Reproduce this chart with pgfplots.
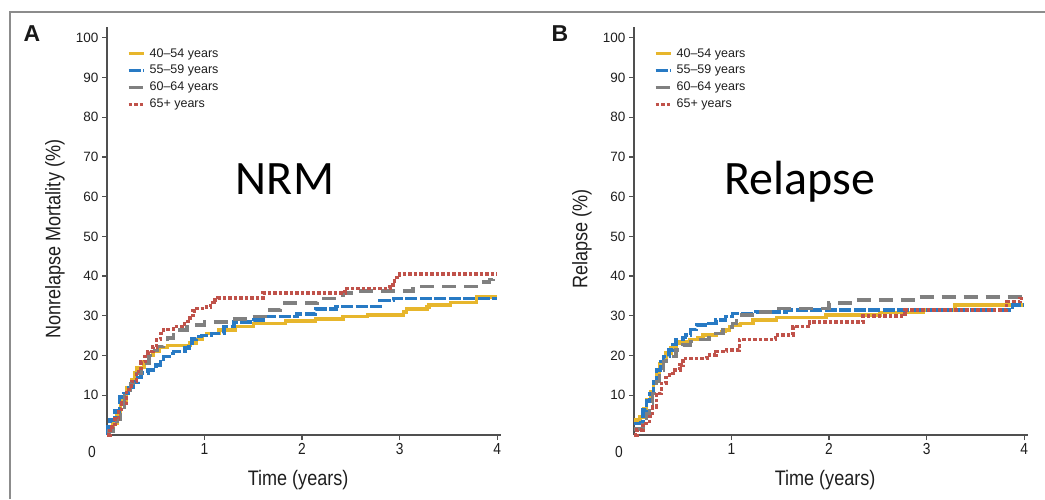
\documentclass[border=0pt]{standalone}
\usepackage{pgfplots}
\pgfplotsset{compat=1.18}
\usepackage{fontspec}
\setmainfont{Liberation Sans}
\newfontfamily\condfont{Liberation Sans}[FakeStretch=0.86]
\newfontfamily\calfont{Carlito}
\definecolor{cyel}{RGB}{231,182,44}
\definecolor{cblu}{RGB}{40,122,196}
\definecolor{cgry}{RGB}{128,128,128}
\definecolor{cred}{RGB}{192,82,74}
\definecolor{axgray}{RGB}{80,80,80}
\definecolor{txt}{RGB}{30,30,30}
\definecolor{frame}{RGB}{140,140,140}

\pgfplotsset{
 kmstyle/.style={
  width=394pt, height=408pt, scale only axis, clip=false,
  xmin=0, xmax=4.04, ymin=0, ymax=102.7,
  axis lines=left, axis line style={-, axgray, line width=1.4pt},
  xtick={1,2,3,4}, ytick={10,20,...,100},
  tick align=outside, major tick length=5pt,
  tick style={axgray, line width=1.2pt},
  /pgf/number format/assume math mode=true,
  xticklabel style={font=\condfont\fontsize{16}{16}\selectfont, text=txt},
  yticklabel style={font=\fontsize{13.5}{13.5}\selectfont, text=txt},
  label style={font=\condfont\fontsize{21}{21}\selectfont, text=txt},
  xlabel style={at={(axis description cs:0.485,-0.11)}, anchor=center},
  ylabel style={at={(axis description cs:-0.132,0.48)}, anchor=center},
  legend cell align=left,
  legend style={draw=none, fill=none, at={(rel axis cs:0.043,0.957)}, anchor=north west,
    font=\fontsize{12.5}{12.5}\selectfont, text=txt, row sep=2.2pt,
    /tikz/every odd column/.style={column sep=3pt},
    nodes={inner sep=1.5pt, text height=9pt, text depth=2.5pt}},
  legend image code/.code={\draw[#1, line width=3pt] (0pt,0pt) -- (15pt,0pt);},
 },
 yel/.style={cyel, line width=3.5pt, const plot, mark=none},
 blu/.style={cblu, line width=3.5pt, dash pattern=on 12pt off 2.5pt, const plot, mark=none},
 gry/.style={cgry, line width=3.5pt, dash pattern=on 14pt off 8pt, const plot, mark=none},
 red/.style={cred, line width=3.5pt, dash pattern=on 3.5pt off 2pt, const plot, mark=none},
}

\begin{document}
\begin{tikzpicture}
\useasboundingbox (0pt,0pt) rectangle (1045pt,499pt);
\draw[frame, line width=2pt] (10pt,0pt) -- (10pt,487pt) -- (1045pt,487pt);
\node[font=\bfseries\fontsize{23}{23}\selectfont, text=black!90] at (32pt,465pt) {A};
\node[font=\bfseries\fontsize{23}{23}\selectfont, text=black!90] at (560pt,465pt) {B};

% ---------------- Panel A: NRM ----------------
\begin{axis}[kmstyle, at={(107pt,64pt)}, anchor=south west,
  xlabel={Time (years)}, ylabel={Nonrelapse Mortality (\%)}]
\addplot[yel] coordinates {
(0,0) (0.02,1) (0.06,3) (0.1,6) (0.14,8.5) (0.2,12) (0.25,14) (0.28,15.6)
(0.31,17) (0.38,18.5) (0.43,20) (0.47,21) (0.54,22) (0.62,22.5) (0.85,23.2)
(0.92,24) (0.98,25) (1.02,25.6) (1.15,26.4) (1.32,27.3) (1.5,28.1) (1.83,28.7)
(2.14,29.2) (2.42,29.8) (2.67,30.2) (3.04,31) (3.07,31.7) (3.28,32.2) (3.3,32.7)
(3.52,33.3) (3.79,34.8) (4.0,34.8)};
\addlegendentry{40--54 years}
\addplot[blu] coordinates {
(0,0) (0.01,2) (0.03,3.8) (0.08,6) (0.13,9.6) (0.17,10.5) (0.22,12) (0.27,13.4)
(0.32,14.5) (0.35,15.6) (0.42,16.4) (0.5,17.6) (0.55,18.5) (0.58,19.7) (0.64,20.5)
(0.68,21) (0.8,21.9) (0.84,23) (0.87,24.2) (0.92,24.8) (0.97,25.1) (1.07,25.6)
(1.2,27.3) (1.3,28.5) (1.5,29) (1.6,29.8) (1.95,30.5) (2.14,31.7) (2.35,32.3)
(2.8,33.8) (2.94,34.4) (4.0,34.4)};
\addlegendentry{55--59 years}
\addplot[gry] coordinates {
(0,0) (0.02,1) (0.06,2.5) (0.1,4) (0.14,7) (0.18,10) (0.24,13) (0.3,15.5)
(0.35,18) (0.43,20) (0.49,21.3) (0.52,22.3) (0.58,23.3) (0.62,24.4) (0.68,25.2)
(0.72,26.4) (0.82,27.2) (0.9,27.7) (1.0,28.5) (1.25,29.2) (1.44,29.8) (1.62,31.5)
(1.78,33.2) (2.16,34.4) (2.42,35.7) (2.5,36.3) (3.14,37.4) (3.79,38.5) (3.92,39.2)
(3.96,39.9) (4.0,39.9)};
\addlegendentry{60--64 years}
\addplot[red] coordinates {
(0,0) (0.03,2) (0.08,4) (0.12,6.5) (0.15,8) (0.2,11.5) (0.25,13.5) (0.3,16)
(0.35,18.5) (0.39,19.8) (0.42,21) (0.47,22.2) (0.51,24) (0.55,25.5) (0.58,26.6)
(0.68,27.3) (0.77,28) (0.83,29.4) (0.88,31.2) (0.92,31.8) (1.0,32.2) (1.06,33.3)
(1.1,34) (1.14,34.5) (1.6,35.7) (2.44,36.9) (2.9,37.8) (2.93,38.8) (2.97,39.6)
(3.0,40.5) (4.0,40.5)};
\addlegendentry{65+ years}
\node[font=\condfont\fontsize{16}{16}\selectfont, text=txt] at (rel axis cs:0,0) [xshift=-15pt, yshift=-17pt] {0};
\end{axis}

% ---------------- Panel B: Relapse ----------------
\begin{axis}[kmstyle, at={(634pt,64pt)}, anchor=south west,
  xlabel={Time (years)}, ylabel={Relapse (\%)}]
\addplot[yel] coordinates {
(0,3.8) (0.06,4.5) (0.1,6.5) (0.13,8.8) (0.17,11) (0.2,13) (0.23,15.5) (0.26,18)
(0.3,19.5) (0.33,20.6) (0.38,22) (0.43,23.1) (0.47,23.5) (0.57,24) (0.65,24.6)
(0.71,25.2) (0.84,25.6) (0.9,26) (0.94,26.4) (0.98,27.2) (1.01,27.7) (1.09,28.1)
(1.22,29) (1.46,29.6) (1.97,30.2) (2.52,30.8) (2.97,31.5) (3.29,32.7) (4.0,32.7)};
\addlegendentry{40--54 years}
\addplot[blu] coordinates {
(0,2.9) (0.07,3.2) (0.09,6.3) (0.13,8.5) (0.16,10.5) (0.2,13.5) (0.23,16.4)
(0.27,18.5) (0.3,19.7) (0.36,21.4) (0.4,22.8) (0.43,24) (0.5,24.6) (0.53,25.2)
(0.58,26.5) (0.64,27.7) (0.77,28.1) (0.84,29) (0.94,29.8) (1.01,30.6) (1.25,31)
(1.56,31.5) (3.88,32.7) (4.0,32.7)};
\addlegendentry{55--59 years}
\addplot[gry] coordinates {
(0,1.5) (0.09,2.5) (0.13,5.4) (0.16,8) (0.19,10.5) (0.23,13.5) (0.26,16.4)
(0.3,18.5) (0.33,19.7) (0.43,21.4) (0.5,22.7) (0.58,23.5) (0.64,24) (0.77,25.6)
(0.91,26.4) (0.97,27.2) (1.01,28.1) (1.05,29.3) (1.08,30.2) (1.25,31) (1.4,31.9)
(2.0,33.2) (2.25,34) (2.86,34.8) (3.96,35.3) (4.0,35.3)};
\addlegendentry{60--64 years}
\addplot[red] coordinates {
(0,0) (0.03,1.3) (0.09,2.9) (0.16,4.6) (0.19,7.1) (0.23,10.5) (0.28,13) (0.33,15.1)
(0.4,16.4) (0.47,17.6) (0.5,19.3) (0.75,20.2) (0.84,21) (0.95,21.4) (1.08,24)
(1.45,25.2) (1.63,27.3) (1.8,28.5) (2.35,30) (2.78,31.5) (3.82,33.6) (3.96,34.4)
(4.0,34.4)};
\addlegendentry{65+ years}
\node[font=\condfont\fontsize{16}{16}\selectfont, text=txt] at (rel axis cs:0,0) [xshift=-15pt, yshift=-17pt] {0};
\end{axis}

\node[font=\calfont\fontsize{48}{48}\selectfont, anchor=base] at (285pt,304pt) {NRM};
\node[font=\calfont\fontsize{48}{48}\selectfont, anchor=base] at (800pt,304pt) {Relapse};
\end{tikzpicture}
\end{document}
